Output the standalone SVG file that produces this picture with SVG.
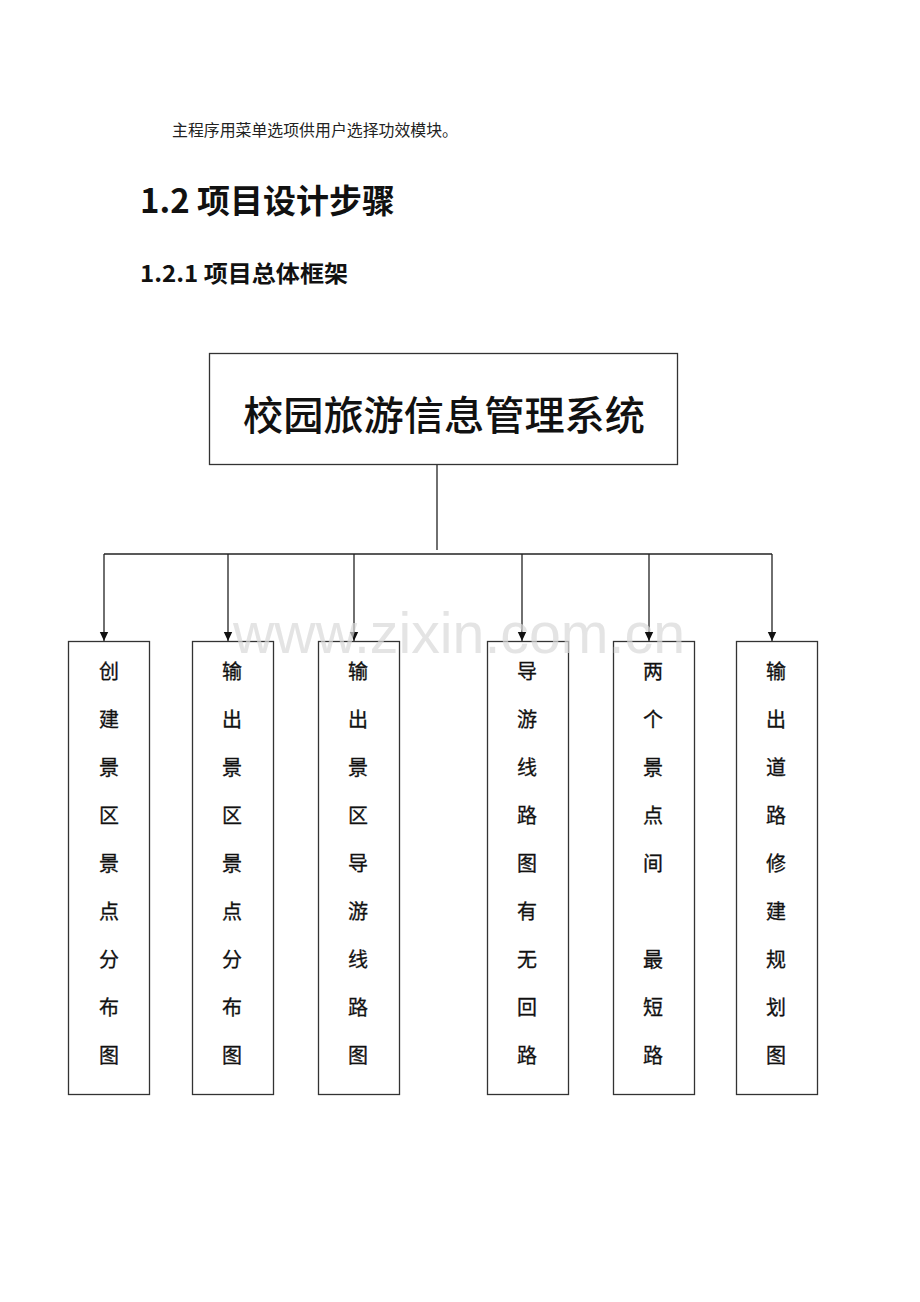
<svg xmlns="http://www.w3.org/2000/svg" width="920" height="1302" viewBox="0 0 920 1302">
<defs>
<style>
.body{font-family:"Liberation Serif","Noto Sans CJK SC",serif;font-size:15.8px;fill:#222}
.h2{font-family:"Noto Sans CJK SC",sans-serif;font-weight:bold;font-size:33px;fill:#111}
.h3{font-family:"Noto Sans CJK SC",sans-serif;font-weight:bold;font-size:23px;fill:#111}
.box{fill:#fff;stroke:#333;stroke-width:1.3}
.title{font-family:"Noto Sans CJK SC",sans-serif;font-weight:500;font-size:40px;fill:#111;text-anchor:middle}
.v{font-family:"Noto Sans CJK SC",sans-serif;font-size:20px;fill:#111;text-anchor:middle;stroke:#111;stroke-width:0.3}
.line{stroke:#222;stroke-width:1.3;fill:none}
.wm{font-family:"Liberation Sans",Arial,sans-serif;font-size:57px;fill:#d9d9d9;fill-opacity:0.7}
</style>
<marker id="arr" markerWidth="10" markerHeight="10" refX="9" refY="5" orient="auto" markerUnits="userSpaceOnUse">
<path d="M0,0.8 L9,5 L0,9.2 Z" fill="#111"/>
</marker>
</defs>
<rect width="920" height="1302" fill="#fff"/>
<text class="body" x="172" y="136" textLength="286" lengthAdjust="spacingAndGlyphs">主程序用菜单选项供用户选择功效模块。</text>
<text class="h2" x="140" y="213" textLength="255" lengthAdjust="spacingAndGlyphs">1.2 项目设计步骤</text>
<text class="h3" x="140" y="282" textLength="208" lengthAdjust="spacingAndGlyphs">1.2.1 项目总体框架</text>

<g id="connectors">
<line class="line" x1="437" y1="465" x2="437" y2="550"/>
<line class="line" x1="104" y1="554" x2="772" y2="554"/>
<line class="line" x1="104" y1="554" x2="104" y2="641" marker-end="url(#arr)"/>
<line class="line" x1="228" y1="554" x2="228" y2="641" marker-end="url(#arr)"/>
<line class="line" x1="354" y1="554" x2="354" y2="641" marker-end="url(#arr)"/>
<line class="line" x1="522" y1="554" x2="522" y2="641" marker-end="url(#arr)"/>
<line class="line" x1="649" y1="554" x2="649" y2="641" marker-end="url(#arr)"/>
<line class="line" x1="772" y1="554" x2="772" y2="641" marker-end="url(#arr)"/>
</g>

<g id="root">
<rect class="box" x="209.5" y="353.5" width="468" height="111"/>
<text class="title" x="444" y="430" textLength="402" lengthAdjust="spacingAndGlyphs">校园旅游信息管理系统</text>
</g>

<g id="n1">
<rect class="box" x="68.5" y="641.5" width="81" height="453"/>
<g class="v">
<text x="109" y="679">创</text><text x="109" y="727">建</text><text x="109" y="775">景</text><text x="109" y="823">区</text><text x="109" y="871">景</text><text x="109" y="919">点</text><text x="109" y="967">分</text><text x="109" y="1015">布</text><text x="109" y="1063">图</text>
</g>
</g>
<g id="n2">
<rect class="box" x="192.5" y="641.5" width="81" height="453"/>
<g class="v">
<text x="232" y="679">输</text><text x="232" y="727">出</text><text x="232" y="775">景</text><text x="232" y="823">区</text><text x="232" y="871">景</text><text x="232" y="919">点</text><text x="232" y="967">分</text><text x="232" y="1015">布</text><text x="232" y="1063">图</text>
</g>
</g>
<g id="n3">
<rect class="box" x="318.5" y="641.5" width="81" height="453"/>
<g class="v">
<text x="358" y="679">输</text><text x="358" y="727">出</text><text x="358" y="775">景</text><text x="358" y="823">区</text><text x="358" y="871">导</text><text x="358" y="919">游</text><text x="358" y="967">线</text><text x="358" y="1015">路</text><text x="358" y="1063">图</text>
</g>
</g>
<g id="n4">
<rect class="box" x="487.5" y="641.5" width="81" height="453"/>
<g class="v">
<text x="527" y="679">导</text><text x="527" y="727">游</text><text x="527" y="775">线</text><text x="527" y="823">路</text><text x="527" y="871">图</text><text x="527" y="919">有</text><text x="527" y="967">无</text><text x="527" y="1015">回</text><text x="527" y="1063">路</text>
</g>
</g>
<g id="n5">
<rect class="box" x="613.5" y="641.5" width="81" height="453"/>
<g class="v">
<text x="653" y="679">两</text><text x="653" y="727">个</text><text x="653" y="775">景</text><text x="653" y="823">点</text><text x="653" y="871">间</text><text x="653" y="967">最</text><text x="653" y="1015">短</text><text x="653" y="1063">路</text>
</g>
</g>
<g id="n6">
<rect class="box" x="736.5" y="641.5" width="81" height="453"/>
<g class="v">
<text x="776" y="679">输</text><text x="776" y="727">出</text><text x="776" y="775">道</text><text x="776" y="823">路</text><text x="776" y="871">修</text><text x="776" y="919">建</text><text x="776" y="967">规</text><text x="776" y="1015">划</text><text x="776" y="1063">图</text>
</g>
</g>

<text class="wm" x="233" y="653" textLength="452" lengthAdjust="spacingAndGlyphs">www.zixin.com.cn</text>
</svg>
